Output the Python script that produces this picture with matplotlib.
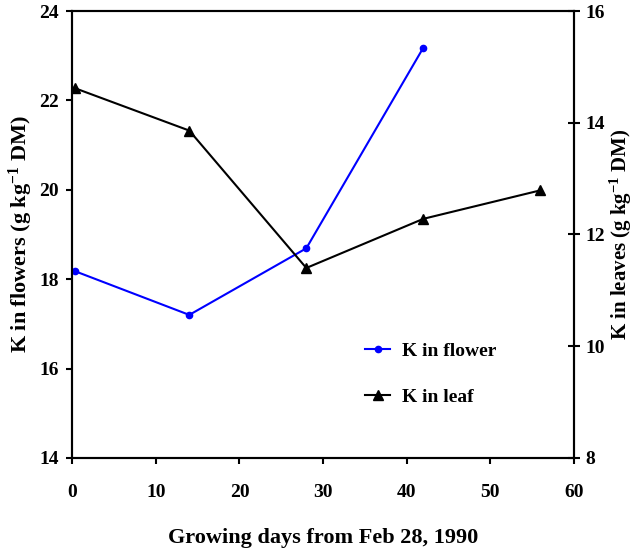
import matplotlib.pyplot as plt

# data
days_flower = [0.3, 14, 28, 42]
k_flower = [18.18, 17.2, 18.69, 23.18]
days_leaf = [0.3, 14, 28, 42, 56]
k_leaf = [14.62, 13.86, 11.4, 12.28, 12.79]

plt.rcParams['font.family'] = ['Liberation Serif', 'DejaVu Serif']
plt.rcParams['font.weight'] = 'bold'
plt.rcParams['mathtext.fontset'] = 'custom'
plt.rcParams['mathtext.rm'] = 'Liberation Serif:bold'
plt.rcParams['mathtext.default'] = 'rm'

fig, ax = plt.subplots(figsize=(6.34, 5.53), dpi=100)
fig.subplots_adjust(left=0.114, right=0.905, top=0.980, bottom=0.172)
ax2 = ax.twinx()

l1, = ax.plot(days_flower, k_flower, color='blue', marker='o', markersize=4.5,
              linewidth=1.5, label='K in flower')
l2, = ax2.plot(days_leaf, k_leaf, color='black', marker='^', markersize=7,
               linewidth=1.5, label='K in leaf')

ax.set_xlim(0, 60)
ax.set_ylim(14, 24)
ax2.set_ylim(8, 16)
ax.set_xticks(range(0, 61, 10))
ax.set_yticks(range(14, 25, 2))
ax2.set_yticks(range(8, 17, 2))

for a in (ax, ax2):
    for s in a.spines.values():
        s.set_linewidth(1.5)
ax.tick_params(labelsize=14, width=1.5, length=4.5, direction='out', pad=5)
ax.tick_params(axis='x', pad=14)
ax2.tick_params(labelsize=14, width=1.5, length=9, direction='inout', pad=4)

ax.set_xlabel('Growing days from Feb 28, 1990', fontsize=16, fontweight='bold', labelpad=20)
ax.set_ylabel('K in flowers (g kg$^{-1}$ DM)', fontsize=16, fontweight='bold', labelpad=3)
ax2.set_ylabel('K in leaves (g kg$^{-1}$ DM)', fontsize=15, fontweight='bold',
               rotation=90, labelpad=2)

ax.legend(handles=[l1, l2], frameon=False, fontsize=14, loc='center left',
          bbox_to_anchor=(0.584, 0.188), borderaxespad=0, borderpad=0,
          handlelength=1.3, handletextpad=0.6, labelspacing=1.45)

fig.savefig('out.png', dpi=100)
